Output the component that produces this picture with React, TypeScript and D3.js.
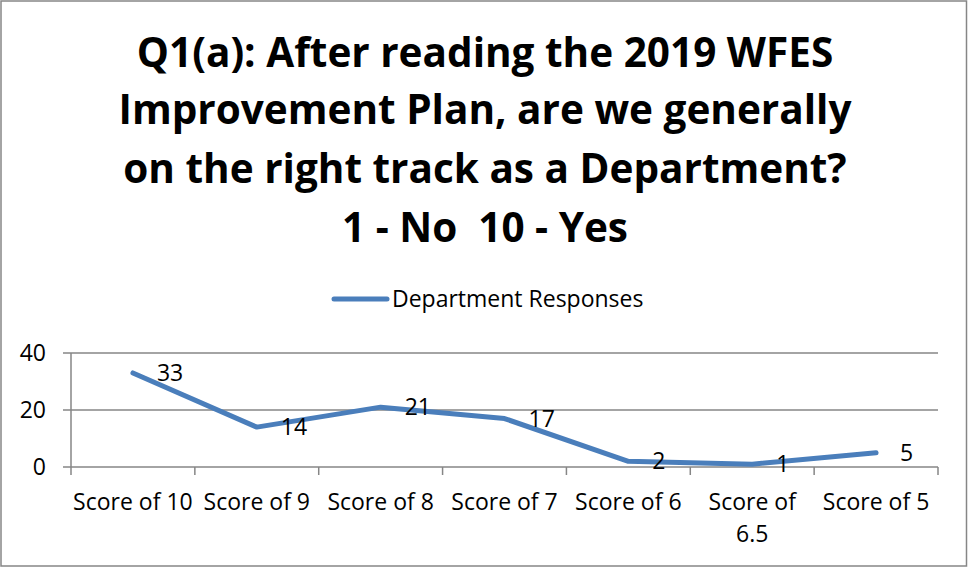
import React from 'react';
import * as d3 from 'd3';

const categories = ['Score of 10', 'Score of 9', 'Score of 8', 'Score of 7', 'Score of 6', 'Score of 6.5', 'Score of 5'];
const responses = [33, 14, 21, 17, 2, 1, 5];
const yTicks = [0, 20, 40];
const titleLines = [
  'Q1(a): After reading the 2019 WFES',
  'Improvement Plan, are we generally',
  'on the right track as a Department?',
  '1 - No  10 - Yes',
];
const seriesName = 'Department Responses';

const W = 968;
const H = 567;
const FONT = '"Open Sans", Calibri, sans-serif';
const LINE_BLUE = '#4a7ebb';
const GREY = '#868686';

const App = () => {
  const svgRef = React.useRef<SVGSVGElement>(null);

  React.useEffect(() => {
    const svg = d3.select(svgRef.current);
    svg.selectAll('*').remove();

    const plot = { left: 71, right: 938, top: 353, bottom: 467 };

    // outer frame
    svg.append('rect')
      .attr('x', 1).attr('y', 1)
      .attr('width', W - 2.5).attr('height', H - 2)
      .attr('fill', 'white')
      .attr('stroke', GREY)
      .attr('stroke-width', 1.5);

    // title
    svg.append('g')
      .selectAll('text')
      .data(titleLines)
      .join('text')
      .attr('x', 485)
      .attr('y', (d, i) => [67, 124, 183, 242][i])
      .attr('text-anchor', 'middle')
      .style('font-family', FONT)
      .style('font-weight', 'bold')
      .style('font-size', '40.5px')
      .style('white-space', 'pre')
      .attr('fill', 'black')
      .text(d => d);

    // legend
    const legend = svg.append('g');
    legend.append('line')
      .attr('x1', 334).attr('x2', 387)
      .attr('y1', 299).attr('y2', 299)
      .attr('stroke', LINE_BLUE)
      .attr('stroke-width', 5)
      .attr('stroke-linecap', 'round');
    legend.append('text')
      .attr('x', 392).attr('y', 299)
      .attr('dy', '0.35em')
      .style('font-family', FONT)
      .style('font-size', '23px')
      .text(seriesName);

    const x = d3.scaleBand()
      .domain(categories)
      .range([plot.left, plot.right]);

    const y = d3.scaleLinear()
      .domain([0, 40])
      .range([plot.bottom, plot.top]);

    // gridlines
    svg.append('g')
      .selectAll('line')
      .data(yTicks)
      .join('line')
      .attr('x1', plot.left - 8)
      .attr('x2', plot.right)
      .attr('y1', d => y(d))
      .attr('y2', d => y(d))
      .attr('stroke', GREY)
      .attr('stroke-width', 1.5);

    // vertical axis line
    svg.append('line')
      .attr('x1', plot.left).attr('x2', plot.left)
      .attr('y1', plot.top).attr('y2', plot.bottom + 8)
      .attr('stroke', GREY)
      .attr('stroke-width', 1.5);

    // category tick marks
    svg.append('g')
      .selectAll('line')
      .data(categories)
      .join('line')
      .attr('x1', d => (x(d) as number) + x.bandwidth())
      .attr('x2', d => (x(d) as number) + x.bandwidth())
      .attr('y1', plot.bottom)
      .attr('y2', plot.bottom + 8)
      .attr('stroke', GREY)
      .attr('stroke-width', 1.5);

    // y labels
    svg.append('g')
      .selectAll('text')
      .data(yTicks)
      .join('text')
      .attr('x', 46)
      .attr('y', d => y(d))
      .attr('dy', '0.35em')
      .attr('text-anchor', 'end')
      .style('font-family', FONT)
      .style('font-size', '23px')
      .text(d => d);

    // category labels, wrapped when wider than band
    const catLabels = svg.append('g')
      .selectAll('text')
      .data(categories)
      .join('text')
      .attr('x', d => (x(d) as number) + x.bandwidth() / 2)
      .attr('y', 510)
      .attr('text-anchor', 'middle')
      .style('font-family', FONT)
      .style('font-size', '23px')
      .text(d => d);

    catLabels.each(function (d) {
      const t = d3.select(this);
      const len = (this as SVGTextElement).getComputedTextLength();
      if (len > x.bandwidth() - 2) {
        const words = d.split(' ');
        const last = words.pop();
        const cx = (x(d) as number) + x.bandwidth() / 2;
        t.text(null);
        t.append('tspan').attr('x', cx).attr('dy', 0).text(words.join(' '));
        t.append('tspan').attr('x', cx).attr('dy', 31.5).text(last as string);
      }
    });

    // series line
    const line = d3.line<number>()
      .x((d, i) => (x(categories[i]) as number) + x.bandwidth() / 2)
      .y(d => y(d));

    svg.append('path')
      .datum(responses)
      .attr('d', line)
      .attr('fill', 'none')
      .attr('stroke', LINE_BLUE)
      .attr('stroke-width', 5)
      .attr('stroke-linecap', 'round')
      .attr('stroke-linejoin', 'round');

    // data labels
    svg.append('g')
      .selectAll('text')
      .data(responses)
      .join('text')
      .attr('x', (d, i) => (x(categories[i]) as number) + x.bandwidth() / 2 + 24)
      .attr('y', d => y(d))
      .attr('dy', '0.35em')
      .style('font-family', FONT)
      .style('font-size', '23px')
      .text(d => d);
  }, []);

  return (
    <svg
      ref={svgRef}
      width={W}
      height={H}
      style={{ position: 'absolute', left: 0, top: 0 }}
    />
  );
};

export default App;
